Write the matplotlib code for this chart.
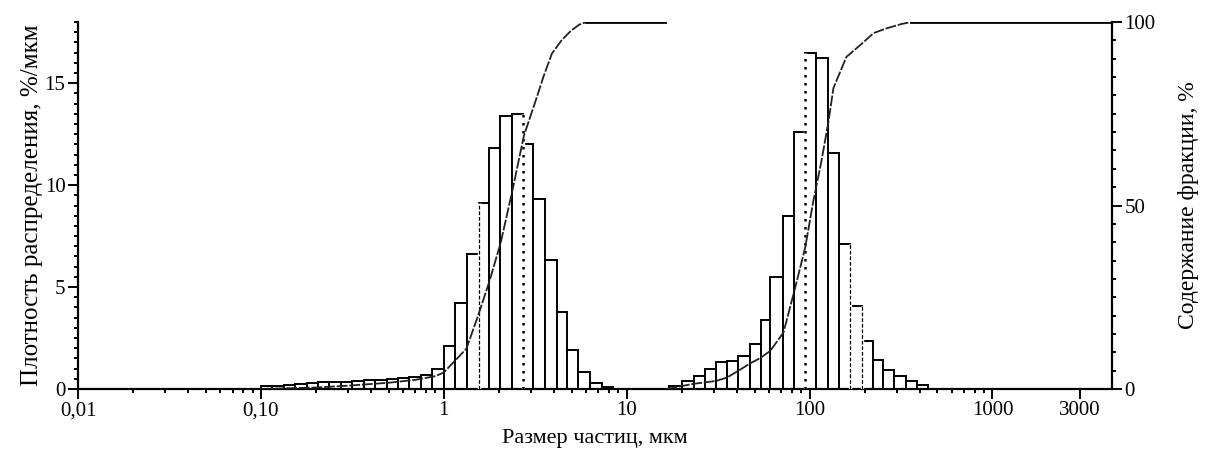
import numpy as np
import matplotlib
matplotlib.use('Agg')
import matplotlib.pyplot as plt
from matplotlib.ticker import FixedLocator, FixedFormatter, MultipleLocator, NullFormatter

plt.rcParams.update({
    'font.family': 'Liberation Serif',
    'font.size': 15,
    'axes.linewidth': 1.6,
    'xtick.direction': 'out',
    'ytick.direction': 'out',
})

# ---------------------------------------------------------------------------
# Data
# ---------------------------------------------------------------------------
# fine fraction: bin edges (um) and density (%/um)
edges_fine = [0.10, 0.115, 0.133, 0.154, 0.178, 0.205, 0.237, 0.274, 0.316,
              0.365, 0.422, 0.487, 0.562, 0.649, 0.75, 0.866, 1.0, 1.153,
              1.336, 1.548, 1.768, 2.031, 2.353, 2.703, 3.092, 3.578, 4.145,
              4.70, 5.445, 6.30, 7.30, 8.43]
dens_fine = [0.15, 0.15, 0.2, 0.22, 0.3, 0.32, 0.34, 0.36, 0.38, 0.42, 0.45,
             0.48, 0.52, 0.6, 0.7, 1.0, 2.1, 4.2, 6.6, 9.1, 11.8, 13.4, 13.5,
             12.0, 9.3, 6.35, 3.8, 1.9, 0.85, 0.3, 0.1]

# coarse fraction
edges_coarse = [17.0, 20.0, 23.2, 26.9, 30.9, 35.3, 40.4, 47.0, 54.2, 61.0,
                71.4, 82.4, 94.7, 108.8, 125.4, 145.2, 166.8, 193.1, 221.8,
                253.6, 290.2, 336.0, 385.5, 446.6]
dens_coarse = [0.15, 0.4, 0.65, 1.0, 1.3, 1.35, 1.6, 2.2, 3.4, 5.5, 8.5,
               12.6, 16.5, 16.25, 11.6, 7.1, 4.07, 2.36, 1.43, 0.95, 0.62,
               0.41, 0.2]

# cumulative content (%)
cum_fine_x = [0.10, 0.2, 0.3, 0.5, 0.7, 0.9, 1.0, 1.33, 1.54, 1.78, 2.05,
              2.37, 2.74, 3.2, 3.5, 3.9, 4.4, 4.95, 5.5, 6.0, 16.2]
cum_fine_y = [0, 0.4, 0.9, 1.7, 2.5, 3.5, 4.5, 11, 20, 29.5, 40, 54, 69, 79,
              85, 91.4, 95, 97.6, 99.3, 100, 100]

cum_coarse_x = [16.5, 20, 23.2, 30.9, 35.3, 40.9, 47.4, 54, 61, 72, 83.5,
                94.7, 105, 116, 127, 135, 159, 189, 224, 264, 320, 360, 4500]
cum_coarse_y = [0, 0.8, 1.4, 2.2, 3.1, 5, 7, 8.5, 10.4, 15.4, 27.7, 38.6,
                51.4, 62, 73, 82, 90.5, 93.7, 97, 98.3, 99.5, 100, 100]

# bar edges drawn as dashed / dotted lines
marks_dashed = [1.548, 166.8, 193.1]
marks_dotted = [2.703, 94.7]

xtick_major = [0.01, 0.1, 1, 10, 100, 1000, 3000]
xtick_labels = ['0,01', '0,10', '1', '10', '100', '1000', '3000']


def draw_hist(ax, edges, dens):
    edges = np.array(edges)
    ax.bar(edges[:-1], dens, width=np.diff(edges), align='edge',
           facecolor='white', edgecolor='black', linewidth=1.4, zorder=2)


def draw_mark(ax, x, style):
    for edges, dens in ((edges_fine, dens_fine), (edges_coarse, dens_coarse)):
        edges = np.array(edges)
        i = int(np.argmin(np.abs(edges - x)))
        if abs(edges[i] - x) > 1e-6:
            continue
        h = max(dens[max(i - 1, 0)], dens[min(i, len(dens) - 1)])
        ax.plot([x, x], [0, h], color='white', lw=2.4, zorder=3,
                solid_capstyle='butt')
        if style == 'dashed':
            ax.plot([x, x], [0, h], color='black', lw=0.9,
                    ls=(0, (3, 1.5)), zorder=4)
        else:
            ax.plot([x, x], [0, h], color='black', lw=1.8,
                    ls=(0, (1, 2.2)), zorder=4)


def draw_cum(ax, xs, ys):
    xs = np.array(xs)
    ys = np.array(ys)
    k = int(np.argmax(ys >= 100))
    ax.plot(xs[:k + 1], ys[:k + 1], color='#222222', lw=1.3,
            ls=(0, (6, 1)), zorder=5)
    ax.plot(xs[k:], ys[k:], color='black', lw=2.0, zorder=5)


def plot_psd():
    fig = plt.figure(figsize=(12.06, 4.5), dpi=100)
    ax = fig.add_axes([0.0647, 0.1356, 0.922 - 0.0647, 0.951 - 0.1356])
    ax2 = ax.twinx()

    draw_hist(ax, edges_fine, dens_fine)
    draw_hist(ax, edges_coarse, dens_coarse)
    for x in marks_dashed:
        draw_mark(ax, x, 'dashed')
    for x in marks_dotted:
        draw_mark(ax, x, 'dotted')

    draw_cum(ax2, cum_fine_x, cum_fine_y)
    draw_cum(ax2, cum_coarse_x, cum_coarse_y)

    ax.set_xscale('log')
    ax.set_xlim(0.01, 4500)
    ax.set_ylim(0, 18)
    ax2.set_ylim(0, 100)

    minors = [m * 10.0 ** e for e in range(-2, 3) for m in range(2, 10)]
    ax.xaxis.set_major_locator(FixedLocator(xtick_major))
    ax.xaxis.set_major_formatter(FixedFormatter(xtick_labels))
    ax.xaxis.set_minor_locator(FixedLocator(minors))
    ax.xaxis.set_minor_formatter(NullFormatter())

    ax.yaxis.set_major_locator(FixedLocator([0, 5, 10, 15]))
    ax.yaxis.set_minor_locator(MultipleLocator(0.5))
    ax2.yaxis.set_major_locator(FixedLocator([0, 50, 100]))
    ax2.yaxis.set_minor_locator(MultipleLocator(5))

    ax.tick_params(which='major', length=7, width=1.4, pad=2)
    ax.tick_params(which='minor', length=3, width=1.4)
    ax2.tick_params(which='major', length=7, width=1.4, pad=2)
    ax2.tick_params(which='minor', length=3, width=1.4)

    for sp in ('top', 'right'):
        ax.spines[sp].set_visible(False)
    for sp in ('top', 'left', 'bottom'):
        ax2.spines[sp].set_visible(False)

    ax.set_xlabel('Размер частиц, мкм', fontsize=16, labelpad=6)
    ax.set_ylabel('Плотность распределения, %/мкм', fontsize=18, labelpad=1)
    ax2.set_ylabel('Содержание фракции, %', fontsize=17, labelpad=16)

    fig.savefig('out.png', dpi=100)
    plt.close(fig)


if __name__ == '__main__':
    plot_psd()
